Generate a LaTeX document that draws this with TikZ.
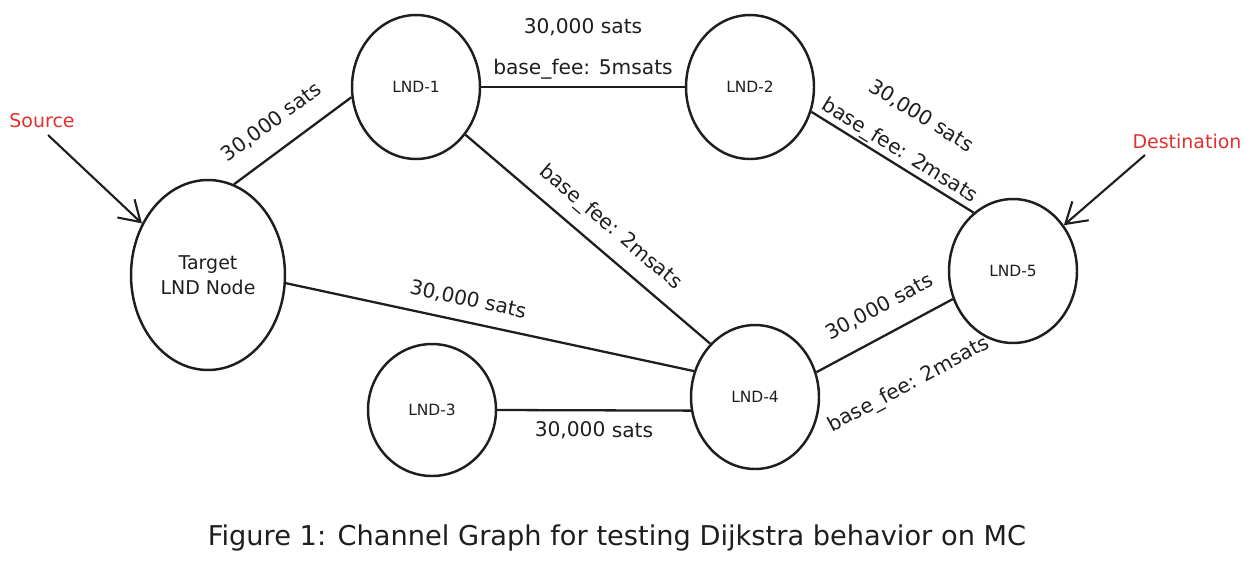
\documentclass[tikz,border=0pt]{standalone}
\usepackage{fontspec}
\setmainfont{DejaVu Sans}
\usetikzlibrary{shapes.geometric, arrows.meta}
\usepackage{xcolor}
\definecolor{ink}{HTML}{1E1E1E}
\definecolor{inkred}{HTML}{E03131}

\begin{document}
\begin{tikzpicture}[x=0.02cm, y=-0.02cm,
    chan/.style={draw=ink, ellipse, line width=1.4pt, inner sep=0pt, minimum width=2.56cm, minimum height=2.88cm, text=ink, font=\fontsize{8.8}{10}\selectfont},
    link/.style={draw=ink, line width=1.3pt},
    lbl/.style={sloped, text=ink, inner sep=1pt, align=center, font=\fontsize{11.5}{23}\selectfont},
    note/.style={text=inkred, font=\fontsize{10.8}{12}\selectfont},
    pointer/.style={draw=ink, line width=1.2pt, -{Straight Barb[length=4mm, width=5mm]}}]
    \useasboundingbox (0,0) rectangle (1253,566);

    % Channel nodes
    \node[chan, minimum width=3.08cm, minimum height=3.8cm, align=center, font=\fontsize{10.8}{14}\selectfont] (target) at (208,275) {Target\\LND Node};
    \node[chan] (lnd1) at (416,87) {LND-1};
    \node[chan] (lnd2) at (750,87) {LND-2};
    \node[chan, minimum height=2.64cm] (lnd3) at (432,410) {LND-3};
    \node[chan] (lnd4) at (755,397) {LND-4};
    \node[chan] (lnd5) at (1013,271) {LND-5};

    % Source and destination
    \node[note] (src) at (42,121) {Source};
    \coordinate (srcend) at (48,135);
    \node[note] (dst) at (1187,141) {Destination};
    \coordinate (dstend) at (1145,155);
    \draw[pointer] (srcend) -- (target.142);
    \draw[pointer] (dstend) -- (lnd5.42);

    % Channels
    \draw[link] (target.74) -- node[lbl, pos=0.46, above=9pt] {30,000 sats} (lnd1.189);
    \draw[link] (lnd1) -- node[lbl, above=3pt] {30,000 sats\\base\_fee: 5msats} (lnd2);
    \draw[link] (lnd2.-22) -- node[lbl, pos=0.5, above=0pt] {30,000 sats\\base\_fee: 2msats} (lnd5.124);
    \draw[link] (lnd1.-44) -- node[lbl, pos=0.53, above=6pt] {base\_fee: 2msats} (lnd4.130);
    \draw[link] (target.-6) -- node[lbl, pos=0.435, above=6pt] {30,000 sats} (lnd4.157);
    \draw[link] (lnd3.east) -- node[lbl, below=5pt] {30,000 sats} (lnd4.192);
    \draw[link] (lnd4.22) -- node[lbl, pos=0.56, above=9pt] {30,000 sats} node[lbl, pos=0.49, below=24pt] {base\_fee: 2msats} (lnd5.205);

    % Caption
    \node[text=ink, font=\fontsize{15.5}{18}\selectfont] (caption) at (617,538) {Figure 1: Channel Graph for testing Dijkstra behavior on MC};
\end{tikzpicture}
\end{document}
